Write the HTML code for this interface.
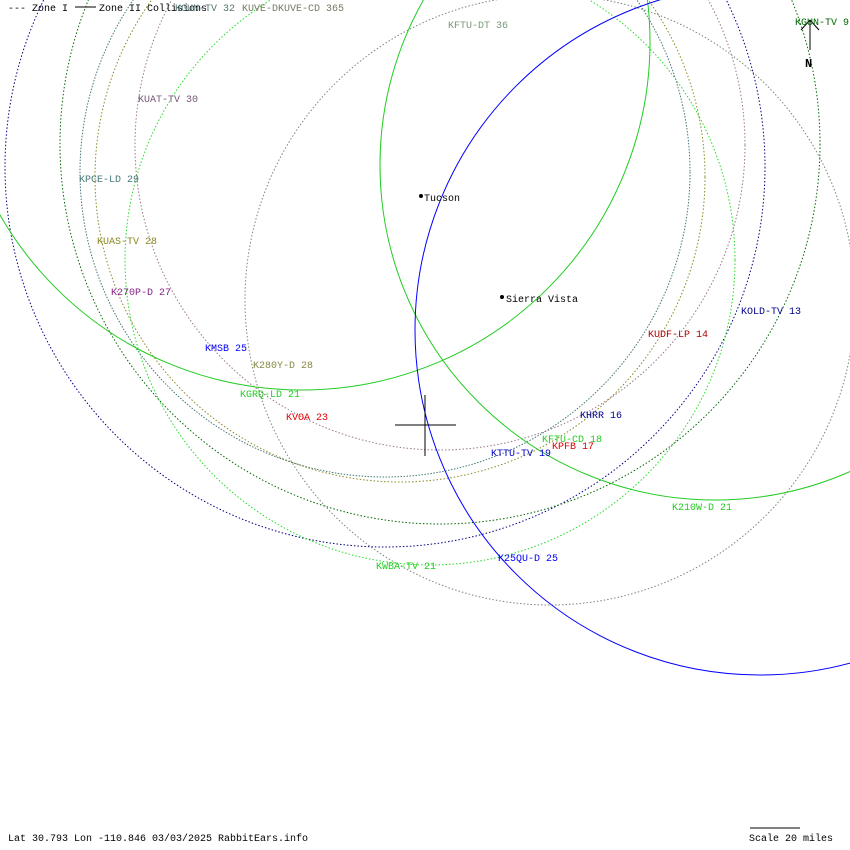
<!DOCTYPE html>
<html><head><style>
html,body{margin:0;padding:0;background:#fff;}
svg{display:block;}
text{font-family:"Liberation Mono","DejaVu Sans Mono",monospace;font-size:10px;}
</style></head><body>
<svg width="850" height="850" viewBox="0 0 850 850" xmlns="http://www.w3.org/2000/svg">
<g fill="none" stroke-width="1">
<!-- dotted zone circles -->
<circle cx="385" cy="167" r="380" stroke="#000080" stroke-dasharray="1.5,2"/>
<circle cx="440" cy="144" r="380" stroke="#006600" stroke-dasharray="1.5,2"/>
<circle cx="385" cy="172" r="305" stroke="#447777" stroke-dasharray="1.5,1.5"/>
<circle cx="400" cy="177" r="305" stroke="#888822" stroke-dasharray="1.5,2"/>
<circle cx="440" cy="145" r="305" stroke="#997788" stroke-dasharray="1.5,2"/>
<circle cx="430" cy="260" r="305" stroke="#22dd22" stroke-dasharray="1.5,2"/>
<circle cx="550" cy="300" r="305" stroke="#778877" stroke-dasharray="1.5,2"/>
<!-- solid circles -->
<circle cx="302" cy="42" r="348" stroke="#22cc22"/>
<circle cx="715" cy="165" r="335" stroke="#22cc22"/>
<circle cx="760" cy="330" r="345" stroke="#0000ff"/>
<!-- crosshair -->
<line x1="395" y1="425" x2="456" y2="425" stroke="#000"/>
<line x1="425" y1="395" x2="425" y2="456" stroke="#000"/>
<!-- north arrow -->
<line x1="810" y1="20" x2="810" y2="50" stroke="#000"/>
<line x1="810" y1="20" x2="801" y2="30" stroke="#000"/>
<line x1="810" y1="20" x2="819" y2="30" stroke="#000"/>
<!-- scale bar -->
<line x1="750" y1="828" x2="800" y2="828" stroke="#000"/>
<!-- legend lines -->
<line x1="75" y1="7" x2="96" y2="7" stroke="#000"/>
</g>
<circle cx="421" cy="196" r="2" fill="#000"/>
<circle cx="502" cy="297" r="2" fill="#000"/>
<g>
<text x="8" y="11" fill="#000">--- Zone I</text>
<text x="99" y="11" fill="#000">Zone II Collisions</text>
<text x="175" y="11" fill="#557777">KGUN-TV 32</text>
<text x="242" y="11" fill="#777766">KUVE-DKUVE-CD 365</text>
<text x="448" y="28" fill="#779977">KFTU-DT 36</text>
<text x="795" y="25" fill="#006600">KGUN-TV 9</text>
<text x="805" y="67" fill="#000" style="font-weight:bold;font-size:12px">N</text>
<text x="138" y="102" fill="#775577">KUAT-TV 30</text>
<text x="79" y="182" fill="#447777">KPCE-LD 29</text>
<text x="97" y="244" fill="#888822">KUAS-TV 28</text>
<text x="111" y="295" fill="#882288">K270P-D 27</text>
<text x="205" y="351" fill="#0000ff">KMSB 25</text>
<text x="253" y="368" fill="#888844">K280Y-D 28</text>
<text x="240" y="397" fill="#22cc22">KGRQ-LD 21</text>
<text x="286" y="420" fill="#ee0000">KVOA 23</text>
<text x="424" y="201" fill="#000">Tucson</text>
<text x="506" y="302" fill="#000">Sierra Vista</text>
<text x="648" y="337" fill="#aa0000">KUDF-LP 14</text>
<text x="741" y="314" fill="#000088">KOLD-TV 13</text>
<text x="580" y="418" fill="#000088">KHRR 16</text>
<text x="552" y="449" fill="#dd0000">KPFB 17</text>
<text x="542" y="442" fill="#22cc22">KFTU-CD 18</text>
<text x="491" y="456" fill="#0000cc">KTTU-TV 19</text>
<text x="672" y="510" fill="#22cc22">K210W-D 21</text>
<text x="498" y="561" fill="#0000ff">K25QU-D 25</text>
<text x="376" y="569" fill="#22cc22">KWBA-TV 21</text>
<text x="8" y="841" fill="#000">Lat 30.793 Lon -110.846 03/03/2025 RabbitEars.info</text>
<text x="749" y="841" fill="#000">Scale 20 miles</text>
</g>
</svg>
</body></html>
